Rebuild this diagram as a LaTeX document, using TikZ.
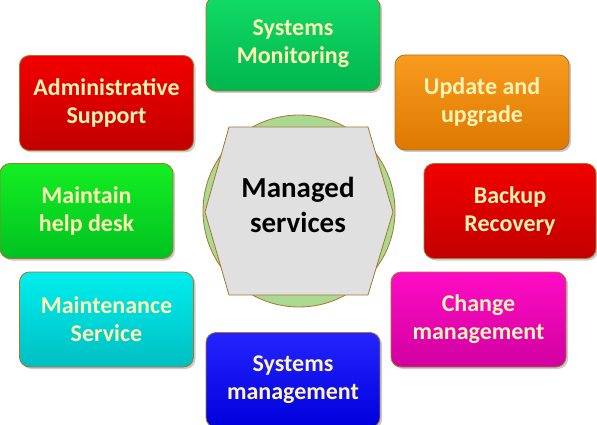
\documentclass[tikz,border=0pt]{standalone}
\usepackage{fontspec}
\setmainfont{Carlito}
\usetikzlibrary{shadows}
\definecolor{txt}{HTML}{FFF4B4}
\definecolor{edge}{HTML}{A8742E}
\definecolor{circfill}{HTML}{AADA92}
\definecolor{hexfill}{HTML}{E0E0E0}
\definecolor{monT}{HTML}{12DA66}\definecolor{monB}{HTML}{00B64E}
\definecolor{redT}{HTML}{F20000}\definecolor{redB}{HTML}{C20000}
\definecolor{orgT}{HTML}{F89C1E}\definecolor{orgB}{HTML}{DE7800}
\definecolor{grnT}{HTML}{14EE22}\definecolor{grnB}{HTML}{00C222}
\definecolor{cyaT}{HTML}{00EEEE}\definecolor{cyaB}{HTML}{00BEC2}
\definecolor{magT}{HTML}{FF0CC4}\definecolor{magB}{HTML}{D000A0}
\definecolor{bluT}{HTML}{2424FF}\definecolor{bluB}{HTML}{0000DC}
\tikzset{
  svc/.style={draw=edge, line width=0.8pt, rounded corners=10pt,
    minimum width=174pt, minimum height=95pt, inner sep=0pt,
    align=center, text=txt, font=\fontsize{24}{28}\selectfont\bfseries,
    execute at begin node={\vspace*{4pt}},
    drop shadow={shadow xshift=2pt, shadow yshift=-2pt, opacity=0.35, fill=black!60}},
  grad/.style 2 args={top color=#1, bottom color=#2}
}
\begin{document}
\begin{tikzpicture}[x=1pt,y=-1pt]
\useasboundingbox (0,0) rectangle (597,425);
% center
\node[circle, draw=edge, line width=0.8pt, fill=circfill, minimum size=192pt, inner sep=0pt] (circ) at (299,211) {};
\draw[draw=edge, line width=0.8pt, fill=hexfill]
  (229,127) -- (368,127) -- (393,212) -- (368,295) -- (229,295) -- (205,212) -- cycle;
\node[align=center, font=\fontsize{29}{35}\selectfont\bfseries, text=black] (hex) at (298,205) {Managed\\services};
% boxes
\node[svc, grad={monT}{monB}, minimum height=94pt] (mon) at (293,44) {Systems\\Monitoring};
\node[svc, grad={redT}{redB}] (adm) at (106.5,103) {Administrative\\Support};
\node[svc, grad={orgT}{orgB}] (upd) at (482,102.5) {Update and\\upgrade};
\node[svc, grad={grnT}{grnB}, minimum width=173pt] (help) at (86.5,211) {Maintain\\help desk};
\node[svc, grad={redT}{redB}, minimum width=172pt] (bak) at (510,211) {Backup\\Recovery};
\node[svc, grad={cyaT}{cyaB}] (mnt) at (106.5,319.5) {Maintenance\\Service};
\node[svc, grad={magT}{magB}, minimum width=175pt] (chg) at (478.5,319.5) {Change\\management};
\node[svc, grad={bluT}{bluB}] (mgt) at (293,380) {Systems\\management};
\end{tikzpicture}
\end{document}
